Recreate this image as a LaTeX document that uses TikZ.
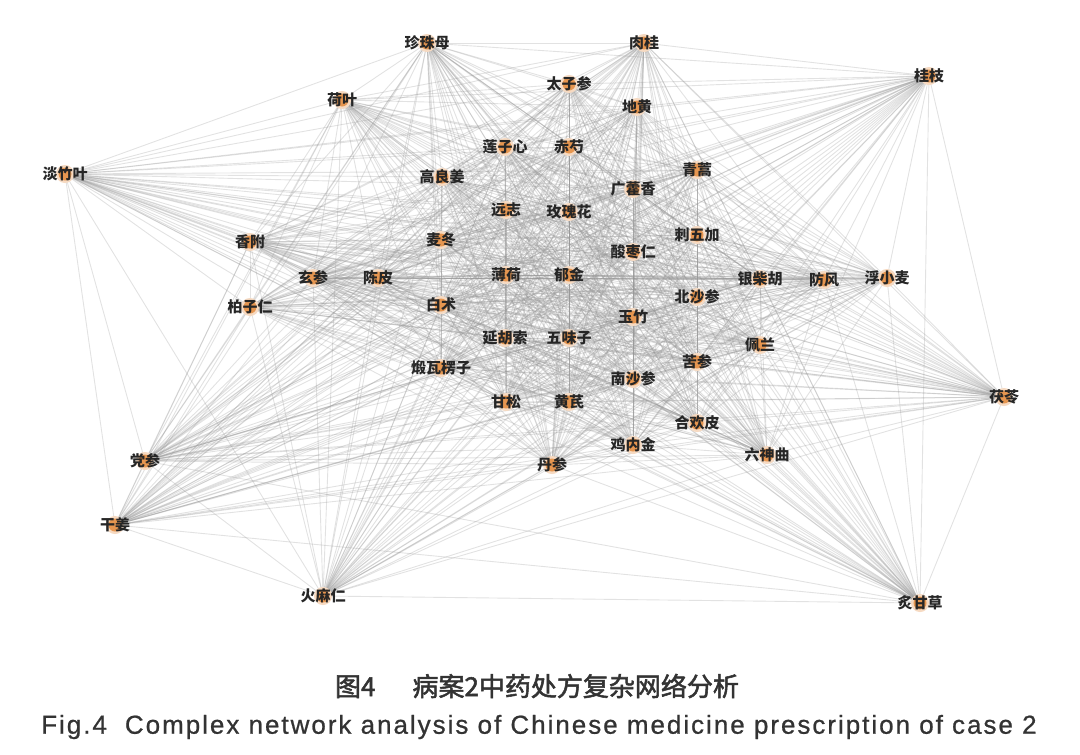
\documentclass[tikz,border=0pt]{standalone}
\usepackage{fontspec}
\setmainfont{Liberation Sans}
\newfontfamily\cjk{Noto Sans CJK SC}
\newfontfamily\cjkcap[FakeBold=2]{Noto Sans CJK SC}
\usetikzlibrary{backgrounds}
\definecolor{herbdot}{RGB}{230,150,80}
\definecolor{edgegray}{RGB}{150,150,150}
\begin{document}
\begin{tikzpicture}[x=1pt,y=-1pt,
    dot/.style={circle,fill=herbdot,inner sep=0pt,minimum size=13pt,
      preaction={draw=herbdot!35,line width=5pt}},
    herb/.style={font=\cjk\bfseries\fontsize{15}{15}\selectfont,text=black!85,inner sep=0pt},
    edge/.style={draw=edgegray,line width=0.9pt,draw opacity=0.28}]
  \useasboundingbox (0,0) rectangle (1080,755);
  % herbs: x/y/name
  \foreach \x/\y/\t [count=\i] in {
      427/43/珍珠母, 644/43/肉桂, 929/76/桂枝, 342/100/荷叶,
      65/174/淡竹叶, 250/242/香附, 250/307/柏子仁, 145/461/党参,
      115/525/干姜, 323/596/火麻仁, 920/603/炙甘草, 1004/397/茯苓,
      887/278/浮小麦,
      569/84/太子参, 637/107/地黄, 505/147/莲子心, 569/147/赤芍,
      442/177/高良姜, 697/170/青蒿, 633/189/广藿香, 506/210/远志,
      569/212/玫瑰花, 697/235/刺五加, 441/240/麦冬, 633/252/酸枣仁,
      313/278/玄参, 378/278/陈皮, 506/275/薄荷, 569/275/郁金,
      760/279/银柴胡, 824/280/防风, 697/297/北沙参, 441/305/白术,
      633/317/玉竹, 505/338/延胡索, 569/338/五味子, 760/345/佩兰,
      697/362/苦参, 441/368/煅瓦楞子, 633/379/南沙参, 506/402/甘松,
      569/402/黄芪, 697/423/合欢皮, 633/445/鸡内金, 767/455/六神曲,
      552/465/丹参}
    {\node[dot] (\i) at (\x,\y) {};
     \node[herb] at (\i) {\t};}
  % every herb linked to every other herb
  \begin{pgfonlayer}{background}
    \foreach \i in {2,...,46}{
      \pgfmathtruncatemacro\k{\i-1}
      \foreach \j in {1,...,\k}
        \draw[edge] (\i) -- (\j);
    }
  \end{pgfonlayer}
  \node[font=\cjkcap\fontsize{26}{26}\selectfont,text=black!80] (title) at (537,686)
    {图4\hspace{37pt}病案2中药处方复杂网络分析};
  \node[font=\addfontfeatures{LetterSpace=7.6,FakeBold=0.8}\fontsize{26}{26}\selectfont,text=black!80] (caption) at (539,727)
    {Fig.4\hspace{18pt}Complex network analysis of Chinese medicine prescription of case 2};
\end{tikzpicture}
\end{document}
